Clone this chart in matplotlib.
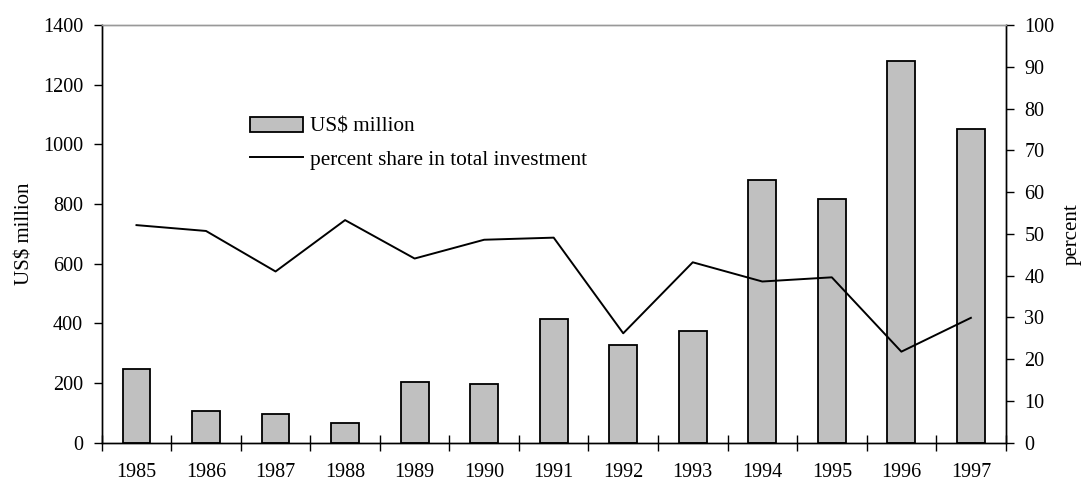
import matplotlib
matplotlib.use("Agg")
import matplotlib.pyplot as plt
import numpy as np

years = ["1985", "1986", "1987", "1988", "1989", "1990", "1991",
         "1992", "1993", "1994", "1995", "1996", "1997"]
usd_million = [247, 107, 97, 65, 204, 198, 415, 329, 375, 881, 817, 1281, 1053]
percent_share = [52.1, 50.7, 41.0, 53.3, 44.1, 48.6, 49.1, 26.2, 43.2, 38.6, 39.6, 21.8, 29.9]

plt.rcParams['font.family'] = ['Liberation Serif', 'DejaVu Serif']
fs_tick = 14.5
fs_label = 15
fs_leg = 15.3

fig = plt.figure(figsize=(10.81, 4.82), dpi=100)
ax = fig.add_axes([0.0941, 0.0815, 0.8362, 0.8665])
ax2 = ax.twinx()

x = np.arange(len(years))
bars = ax.bar(x, usd_million, width=0.4, color='#c0c0c0', edgecolor='black',
              linewidth=1.3, label='US$ million', zorder=2)
line, = ax2.plot(x, percent_share, color='black', linewidth=1.4,
                 label='percent share in total investment')

ax.set_xlim(-0.5, len(years) - 0.5)
ax.set_ylim(0, 1400)
ax.set_yticks(np.arange(0, 1401, 200))
ax2.set_ylim(0, 100)
ax2.set_yticks(np.arange(0, 101, 10))

ax.set_xticks(x)
ax.set_xticklabels(years, fontsize=fs_tick)
ax.set_xticks(np.arange(-0.5, len(years) - 0.4, 1), minor=True)
ax.tick_params(axis='x', which='major', length=0, pad=14.5)
ax.tick_params(axis='x', which='minor', direction='inout', length=12, width=1.0)
ax.tick_params(axis='y', direction='out', length=6, width=1.0, labelsize=fs_tick, pad=7.5)
ax2.tick_params(axis='y', direction='out', length=6, width=1.0, labelsize=fs_tick, pad=7.5)

for a in (ax, ax2):
    a.spines['top'].set_color('#999999')
    a.spines['top'].set_linewidth(1.0)
    for s in ('left', 'right', 'bottom'):
        a.spines[s].set_color('black')
        a.spines[s].set_linewidth(1.0)

ax.set_ylabel('US$ million', fontsize=fs_label, labelpad=6)
ax2.set_ylabel('percent', fontsize=fs_label, labelpad=6)

ax.set_zorder(ax2.get_zorder() - 1)
ax.patch.set_visible(True)
ax2.patch.set_visible(False)

fig.legend([bars, line], ['US$ million', 'percent share in total investment'],
           loc='upper left', bbox_to_anchor=(250 / 1081, 1 - 117 / 482),
           frameon=False, fontsize=fs_leg, borderpad=0, borderaxespad=0,
           handlelength=2.5, handletextpad=0.33, labelspacing=0.6)

fig.savefig('out.png', dpi=100)
